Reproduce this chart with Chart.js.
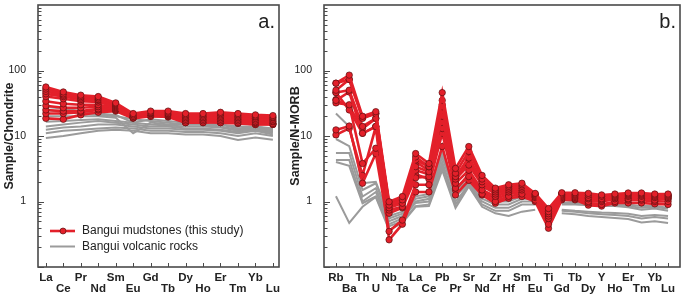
<!DOCTYPE html>
<html><head><meta charset="utf-8">
<script src="https://cdn.jsdelivr.net/npm/chart.js@4.4.1/dist/chart.umd.min.js"></script>
<style>
html,body{margin:0;padding:0;background:#fff;}
#wrap{position:relative;width:685px;height:296px;overflow:hidden;}
#c1{position:absolute;left:0;top:0;}
#c2{position:absolute;left:286px;top:0;}
</style></head><body>
<div id="wrap"><canvas id="c1" width="286" height="296"></canvas><canvas id="c2" width="399" height="296"></canvas></div>
<script>
// ---------- Panel a: chondrite-normalised REE ----------
const reeLabels = ['La','Ce','Pr','Nd','Sm','Eu','Gd','Tb','Dy','Ho','Er','Tm','Yb','Lu'];
const reeMud1  = [56, 47, 42, 40, 32, 22, 24, 24, 22, 22, 23, 22, 21, 20.5];
const reeMud2  = [52, 44, 40, 38, 31, 21, 23, 23, 21, 21, 22, 21, 20, 19.5];
const reeMud3  = [48, 42, 38, 36, 30, 20, 22.5, 22, 20, 20, 21, 20, 19.5, 19];
const reeMud4  = [44, 40, 36, 35, 29, 21, 22, 22, 19, 19, 20, 19, 18.5, 18];
const reeMud5  = [40, 37, 34, 33, 28, 20, 22, 21.5, 18, 18, 19, 18, 17.5, 17];
const reeMud6  = [34, 31, 30, 30, 27, 19, 21, 21, 17, 17, 18, 17, 16.5, 16.5];
const reeMud7  = [29, 27, 27, 28, 26, 21, 21, 20.5, 16, 16, 17, 16, 16, 15.5];
const reeMud8  = [25, 24, 24, 26, 25, 19.5, 20, 20, 17.5, 17, 16, 17, 15.5, 15];
const reeMud9  = [22, 22, 23, 25, 25, 19, 20.5, 20, 16.5, 16.5, 16, 15.5, 15, 15];
const reeMud10 = [18.6, 18, 21, 23, 24, 18.6, 20, 19.5, 16, 16, 16.5, 16, 15, 15.5];
const reeVolc1 = [28, 26, 24, 22, 21, 16, 18, 17, 16, 16, 15, 14, 14, 13];
const reeVolc2 = [25, 23, 22, 21, 20, 18, 17, 16, 15, 15, 15, 13, 14, 12.5];
const reeVolc3 = [20, 20, 20, 20, 19, 11, 16, 15, 15, 15, 14, 12.5, 13.5, 12];
const reeVolc4 = [16.5, 17, 17.5, 18, 17, 16, 15, 14.5, 14, 14, 13.5, 12, 13, 11.5];
const reeVolc5 = [14, 15, 16, 17, 16, 15, 14, 14, 13, 13, 12.5, 11.5, 12.5, 11];
const reeVolc6 = [12.5, 13.5, 14, 15, 15, 14, 13, 13, 12.5, 12.5, 12, 11, 12, 10.5];
const reeVolc7 = [11, 12, 12.5, 13, 13.5, 13, 12, 12, 11.5, 11.5, 11, 10, 11, 10];
const reeVolc8 = [9.3, 10, 11, 12, 12.5, 12, 11, 11, 10.5, 10.5, 10, 8.7, 9.5, 8.8];

// ---------- Panel b: N-MORB-normalised multi-element ----------
const spiderLabels = ['Rb','Ba','Th','U','Nb','Ta','La','Ce','Pb','Pr','Sr','Nd','Zr','Hf','Sm','Eu','Ti','Gd','Tb','Dy','Y','Ho','Er','Tm','Yb','Lu'];
const spMud1  = [64, 85, 20, 23.5, 0.99, 1.19, 5.4, 3.8, 46, 3.2, 6.9, 2.5, 1.6, 1.8, 1.9, 1.33, 0.78, 1.36, 1.36, 1.33, 1.26, 1.3, 1.35, 1.35, 1.3, 1.3];
const spMud2  = [50, 73, 18.6, 22, 0.88, 1.06, 4.8, 3.4, 35, 2.7, 5.8, 2.2, 1.5, 1.7, 1.8, 1.3, 0.7, 1.3, 1.3, 1.25, 1.2, 1.25, 1.3, 1.3, 1.25, 1.25];
const spMud3  = [46, 50, 14, 18.6, 0.8, 0.94, 4.3, 3.4, 28, 2.4, 4.6, 2.0, 1.4, 1.6, 1.7, 1.25, 0.65, 1.25, 1.25, 1.15, 1.1, 1.2, 1.25, 1.25, 1.2, 1.2];
const spMud4  = [35, 47, 11, 14, 0.74, 0.83, 3.4, 2.85, 20, 2.2, 3.6, 1.8, 1.3, 1.5, 1.6, 1.2, 0.6, 1.2, 1.2, 1.1, 1.05, 1.15, 1.2, 1.2, 1.15, 1.15];
const spMud5  = [32, 30, 3.8, 6.5, 0.66, 0.8, 2.3, 2.4, 13, 1.9, 3.0, 1.5, 1.2, 1.4, 1.5, 1.15, 0.55, 1.15, 1.15, 1.0, 1.0, 1.1, 1.1, 1.1, 1.05, 1.1];
const spMud6  = [12.4, 14.2, 1.9, 5.4, 0.35, 0.52, 1.8, 1.8, 11, 1.6, 2.4, 1.3, 1.0, 1.2, 1.3, 1.05, 0.45, 1.1, 1.1, 0.95, 0.9, 1.0, 1.05, 1.05, 1.0, 1.0];
const spMud7  = [10.4, 13.1, 2.5, 13.9, 0.26, 0.45, 1.4, 1.4, 6.9, 1.26, 2.1, 1.26, 0.94, 1.12, 1.19, 1.0, 0.39, 1.06, 1.06, 0.88, 0.85, 0.95, 0.95, 0.95, 0.92, 0.9];
const spMud8  = [46, 25, 11, 13.9, 0.9, 1.0, 3.0, 2.6, 25, 2.0, 5.0, 1.7, 1.35, 1.5, 1.65, 1.2, 0.6, 1.3, 1.25, 1.2, 1.15, 1.2, 1.3, 1.3, 1.2, 1.2];
const spMud9  = [36, 28, 13, 18.6, 0.95, 1.1, 4.0, 3.0, 30, 2.3, 4.2, 1.9, 1.45, 1.6, 1.75, 1.25, 0.7, 1.3, 1.3, 1.2, 1.15, 1.25, 1.3, 1.3, 1.25, 1.25];
const spMud10 = [64, 73, 19, 22, 0.85, 0.95, 2.6, 2.2, 16, 1.5, 2.6, 1.4, 1.1, 1.3, 1.4, 1.1, 0.5, 1.2, 1.2, 1.05, 1.0, 1.1, 1.15, 1.15, 1.1, 1.1];
const spVolc1 = [22, 14, 1.9, 2.0, 0.6, 0.7, 1.2, 1.3, 5.8, 1.5, 2.1, 1.34, 1.12, 1.12, 1.3, 1.3, null, 1.05, 1.0, 0.95, 0.9, 0.9, 0.9, 0.85, 0.85, 0.8];
const spVolc2 = [9, 7, 1.5, 1.9, 0.55, 0.65, 1.1, 1.2, 5.2, 1.35, 2.0, 1.25, 1.0, 1.0, 1.2, 1.2, null, 0.95, 0.95, 0.92, 0.88, 0.88, 0.85, 0.8, 0.82, 0.78];
const spVolc3 = [5.5, 5.5, 1.19, 1.6, 0.5, 0.6, 1.0, 1.1, 4.8, 1.2, 1.9, 1.1, 0.9, 0.9, 1.1, 1.1, null, 0.9, 0.9, 0.88, 0.85, 0.85, 0.82, 0.75, 0.78, 0.72];
const spVolc4 = [4.3, 4.3, 1.0, 1.4, 0.45, 0.55, 0.95, 1.0, 4.0, 1.0, 1.8, 1.0, 0.8, 0.8, 1.0, 1.0, null, 0.75, 0.72, 0.7, 0.68, 0.67, 0.65, 0.6, 0.62, 0.6];
const spVolc5 = [4.0, 3.5, 0.94, 1.2, 0.42, 0.5, 0.85, 0.9, 3.5, 0.9, 1.75, 0.9, 0.72, 0.72, 0.9, 0.9, null, 0.72, 0.7, 0.66, 0.64, 0.62, 0.6, 0.55, 0.58, 0.55];
const spVolc6 = [1.2, 0.47, 0.83, 1.17, 0.37, 0.47, 0.83, 0.85, 3.0, 0.8, 1.7, 0.83, 0.66, 0.6, 0.7, 0.75, null, 0.66, 0.64, 0.6, 0.58, 0.56, 0.54, 0.48, 0.5, 0.47];

const yTickLabels = [1, 10, 100];
const legendLabels = ['Bangui mudstones (this study)', 'Bangui volcanic rocks'];

// ---------- styling ----------
const RED = '#e3202a', RED_EDGE = '#5a1010', GRAY = '#9b9b9b', INK = '#222', FRAME = '#4a4a4a';
Chart.defaults.font.family = "'Liberation Sans', Arial, sans-serif";
Chart.defaults.color = INK;

function mkSet(vals, mud) {
  return {
    data: vals.map((v, i) => ({x: i, y: v})),
    borderColor: mud ? RED : GRAY,
    borderWidth: mud ? 2.6 : 2,
    pointRadius: mud ? 3.2 : 0,
    pointHoverRadius: 0,
    pointBackgroundColor: RED,
    pointBorderColor: RED_EDGE,
    pointBorderWidth: 0.7,
    tension: 0,
    spanGaps: false
  };
}

const frameTicks = {
  id: 'frameTicks',
  afterDatasetsDraw(chart) {
    const {ctx, chartArea: a, scales: {x, y}} = chart;
    const n = chart.options.plugins.frameTicks.count;
    ctx.save();
    ctx.strokeStyle = FRAME;
    ctx.lineWidth = 1;
    ctx.beginPath();
    for (let e = -1; e < 3; e++) {
      for (let m = 1; m < 10; m++) {
        const py = Math.round(y.getPixelForValue(m * Math.pow(10, e))) + 0.5;
        const len = m === 1 ? 6 : 3.5;
        ctx.moveTo(a.left, py); ctx.lineTo(a.left + len, py);
      }
    }
    for (let i = 0; i < n; i++) {
      const px = Math.round(x.getPixelForValue(i)) + 0.5;
      ctx.moveTo(px, a.bottom); ctx.lineTo(px, a.bottom - 4);
    }
    ctx.stroke();
    ctx.lineWidth = 1.6;
    ctx.strokeRect(a.left, a.top, a.right - a.left, a.bottom - a.top);
    // panel letter
    ctx.fillStyle = INK;
    ctx.font = "20px 'Liberation Sans', Arial, sans-serif";
    ctx.textAlign = 'right';
    ctx.textBaseline = 'alphabetic';
    ctx.fillText(chart.options.plugins.frameTicks.letter, a.right - 4, a.top + 23);
    ctx.restore();
  }
};

const customLegend = {
  id: 'customLegend',
  afterDatasetsDraw(chart) {
    if (!chart.options.plugins.customLegend.show) return;
    const {ctx, chartArea: a} = chart;
    ctx.save();
    const x0 = a.left + 12, x1 = a.left + 37;
    const rows = [a.bottom - 36, a.bottom - 20.5];
    ctx.lineWidth = 2.6; ctx.strokeStyle = RED;
    ctx.beginPath(); ctx.moveTo(x0, rows[0]); ctx.lineTo(x1, rows[0]); ctx.stroke();
    ctx.beginPath(); ctx.arc(a.left + 25, rows[0], 3, 0, Math.PI * 2);
    ctx.fillStyle = RED; ctx.fill(); ctx.lineWidth = 0.7; ctx.strokeStyle = RED_EDGE; ctx.stroke();
    ctx.lineWidth = 2; ctx.strokeStyle = GRAY;
    ctx.beginPath(); ctx.moveTo(x0, rows[1]); ctx.lineTo(x1, rows[1]); ctx.stroke();
    ctx.fillStyle = INK;
    ctx.font = "12px 'Liberation Sans', Arial, sans-serif";
    ctx.textAlign = 'left'; ctx.textBaseline = 'middle';
    ctx.fillText(legendLabels[0], a.left + 44, rows[0]);
    ctx.fillText(legendLabels[1], a.left + 44, rows[1]);
    ctx.restore();
  }
};

function makeChart(canvasId, labels, mudSets, volcSets, xmin, xmax, title, letter, padRight, showLegend) {
  const datasets = mudSets.map(v => mkSet(v, true)).concat(volcSets.map(v => mkSet(v, false)));
  return new Chart(document.getElementById(canvasId), {
    type: 'line',
    data: {datasets},
    options: {
      responsive: false, animation: false, devicePixelRatio: 1,
      layout: {padding: {top: 5, right: padRight, left: 0, bottom: 0}},
      plugins: {legend: {display: false}, tooltip: {enabled: false},
        frameTicks: {count: labels.length, letter}, customLegend: {show: showLegend}},
      scales: {
        x: {
          type: 'linear', min: xmin, max: xmax,
          grid: {display: false}, border: {display: false},
          afterFit: s => { s.height = 29; s.paddingLeft = 0; s.paddingRight = 0; },
          afterBuildTicks: s => { s.ticks = labels.map((_, i) => ({value: i})); },
          ticks: {
            autoSkip: false, maxRotation: 0, padding: -3,
            font: {size: 11.5, weight: 'bold', lineHeight: 0.96},
            callback: v => { const i = Math.round(v); return i % 2 === 0 ? labels[i] : ['', labels[i]]; }
          }
        },
        y: {
          type: 'logarithmic', min: 0.1, max: 1000,
          grid: {display: false}, border: {display: false},
          afterFit: s => { s.width = 38; s.paddingTop = 0; s.paddingBottom = 0; },
          afterBuildTicks: s => { s.ticks = yTickLabels.map(v => ({value: v})); },
          ticks: {padding: 4, font: {size: 10.5}, callback: v => String(v)},
          title: {display: true, text: title, font: {size: 12.5, weight: 'bold'}, padding: {top: 2, bottom: 0}}
        }
      }
    },
    plugins: [frameTicks, customLegend]
  });
}

makeChart('c1', reeLabels,
  [reeMud1, reeMud2, reeMud3, reeMud4, reeMud5, reeMud6, reeMud7, reeMud8, reeMud9, reeMud10],
  [reeVolc1, reeVolc2, reeVolc3, reeVolc4, reeVolc5, reeVolc6, reeVolc7, reeVolc8],
  -0.45, 13.35, 'Sample/Chondrite', 'a.', 7, true);
makeChart('c2', spiderLabels,
  [spMud1, spMud2, spMud3, spMud4, spMud5, spMud6, spMud7, spMud8, spMud9, spMud10],
  [spVolc1, spVolc2, spVolc3, spVolc4, spVolc5, spVolc6],
  -0.9, 25.9, 'Sample/N-MORB', 'b.', 5, false);
</script>
</body></html>
